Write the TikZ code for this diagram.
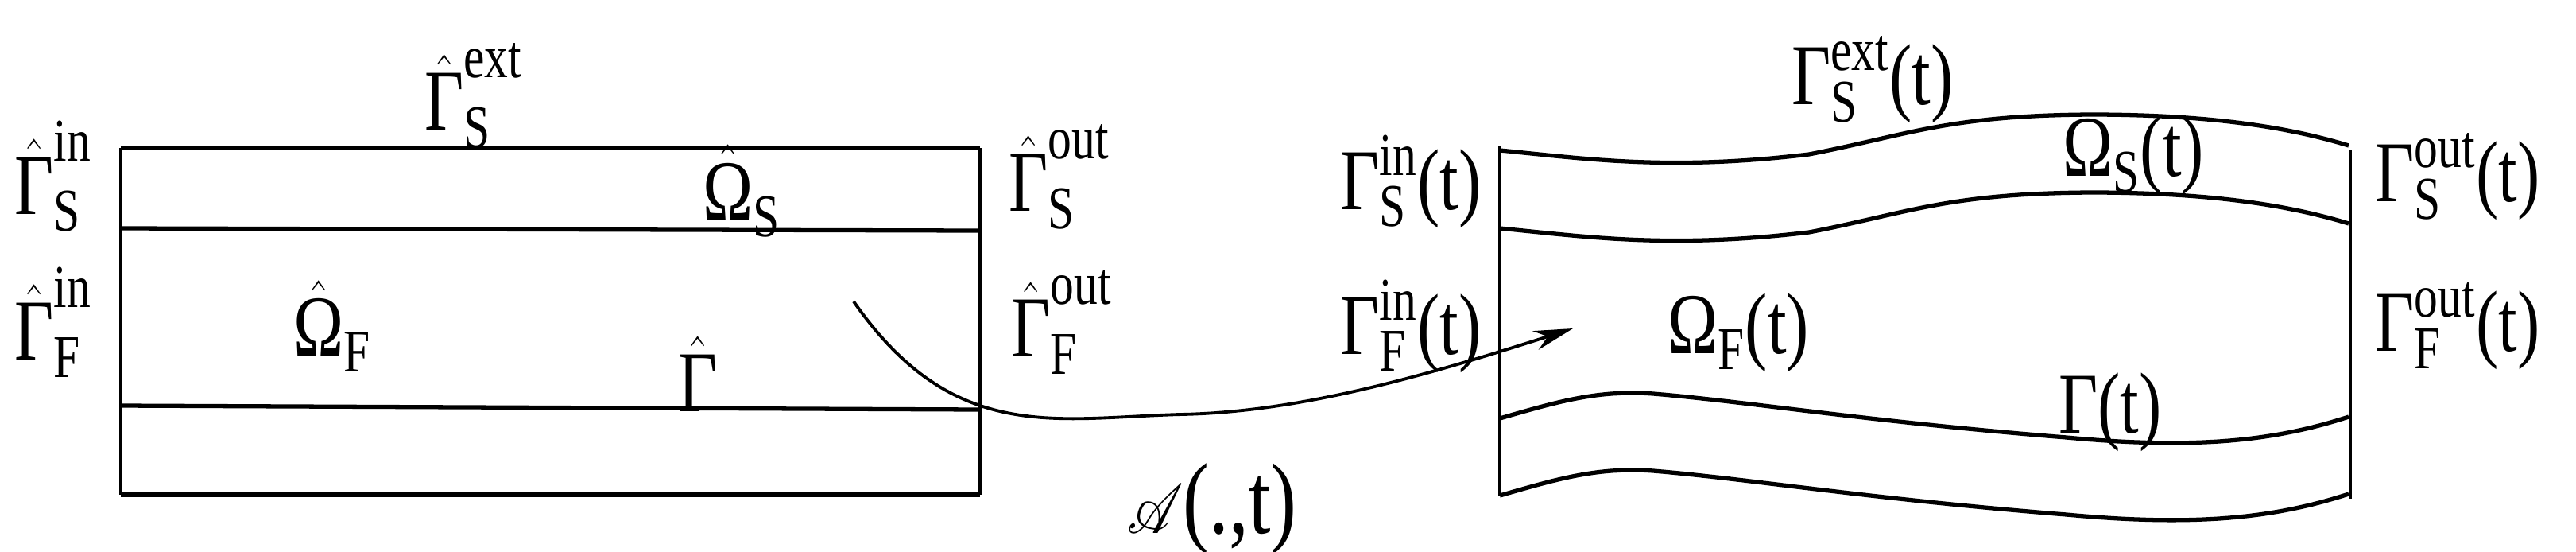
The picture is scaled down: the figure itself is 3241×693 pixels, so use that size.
\documentclass[tikz,border=0pt]{standalone}
\usepackage{amsmath}
\usepackage{mathrsfs}
\usepackage{fontspec}
\setmainfont{Liberation Serif}
\usetikzlibrary{arrows.meta}
\begin{document}
\begin{tikzpicture}[x=0.01cm,y=-0.01cm,
  bd/.style={line width=1.5pt},
  vt/.style={line width=1.1pt},
  lb/.style={font=\fontsize{31}{36}\selectfont,inner sep=0pt,xscale=0.78}]
\useasboundingbox (0,0) rectangle (3241,693);
% left domain
\draw[bd] (152,186) -- (1233,186);
\draw[bd] (152,287) -- (1233,290);
\draw[bd] (152,510) -- (1233,515);
\draw[bd] (152,622) -- (1233,622);
\draw[vt] (152,186) -- (152,622);
\draw[vt] (1233,186) -- (1233,622);
% right domain
\draw[vt] (1887,183) -- (1887,624);
\draw[vt] (2957,188) -- (2957,627);
\draw[bd] (1887,189) .. controls (2000,200) and (2100,215) .. (2276,194) .. controls (2400,170) and (2450,145) .. (2631,144) .. controls (2780,144) and (2880,160) .. (2955,183);
\draw[bd] (1887,287) .. controls (2000,298) and (2100,313) .. (2276,292) .. controls (2400,268) and (2450,243) .. (2631,242) .. controls (2780,242) and (2880,258) .. (2955,281);
\draw[bd] (1887,526) .. controls (1960,505) and (2010,490) .. (2080,495) .. controls (2200,505) and (2350,530) .. (2600,550) .. controls (2760,565) and (2860,555) .. (2955,524);
\draw[bd] (1887,623) .. controls (1960,602) and (2010,587) .. (2080,592) .. controls (2200,602) and (2350,627) .. (2600,647) .. controls (2760,662) and (2860,652) .. (2955,621);
% map arrow
\coordinate (a0) at (1074,379);
\coordinate (a1) at (1979,413);
\draw[line width=1.1pt,-{Stealth[length=14pt,width=7pt]}] (a0) .. controls (1200,560) and (1330,525) .. (1486,521) .. controls (1640,518) and (1800,470) .. (a1);
% labels left
\node[lb] (gse) at (596,120) {$\hat{\text{Γ}}^{\text{ext}}_{\text{S}}$};
\node[lb] (gsi) at (67,222) {$\hat{\text{Γ}}^{\text{in}}_{\text{S}}$};
\node[lb] (gfi) at (67,405) {$\hat{\text{Γ}}^{\text{in}}_{\text{F}}$};
\node[lb] (os) at (933,240) {$\hat{\text{Ω}}_{\text{S}}$};
\node[lb] (of) at (418,410) {$\hat{\text{Ω}}_{\text{F}}$};
\node[lb] (gh) at (878,470) {$\hat{\text{Γ}}$};
\node[lb] (gso) at (1333,222) {$\hat{\text{Γ}}^{\text{out}}_{\text{S}}$};
\node[lb] (gfo) at (1336,405) {$\hat{\text{Γ}}^{\text{out}}_{\text{F}}$};
\node[lb,font=\fontsize{36}{40}\selectfont] (map) at (1525,640) {$\mathscr{A}\text{(.,t)}$};
% labels right
\node[lb] (rse) at (2356,100) {$\text{Γ}^{\text{ext}}_{\text{S}}\text{(t)}$};
\node[lb] (rsi) at (1775,228) {$\text{Γ}^{\text{in}}_{\text{S}}\text{(t)}$};
\node[lb] (rfi) at (1775,410) {$\text{Γ}^{\text{in}}_{\text{F}}\text{(t)}$};
\node[lb] (ros) at (2684,195) {$\text{Ω}_{\text{S}}\text{(t)}$};
\node[lb] (rof) at (2187,418) {$\text{Ω}_{\text{F}}\text{(t)}$};
\node[lb] (rg) at (2655,518) {$\text{Γ(t)}$};
\node[lb] (rso) at (3092,222) {$\text{Γ}^{\text{out}}_{\text{S}}\text{(t)}$};
\node[lb] (rfo) at (3092,410) {$\text{Γ}^{\text{out}}_{\text{F}}\text{(t)}$};
\end{tikzpicture}
\end{document}
